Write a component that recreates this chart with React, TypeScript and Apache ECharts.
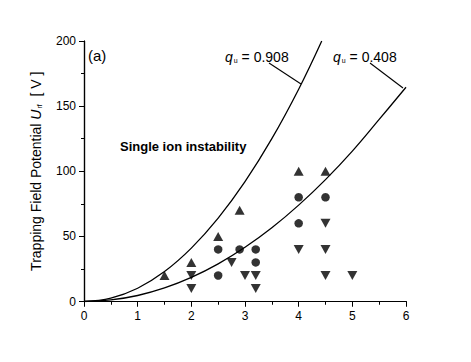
import React, { useEffect, useRef } from "react";
import * as echarts from "echarts";

const upTriangles: [number, number][] = [
  [1.5, 20], [2, 30], [2.5, 50], [2.9, 70], [4, 100], [4.5, 100],
];
const circles: [number, number][] = [
  [2.5, 40], [2.5, 20], [2.9, 40], [3.2, 40], [3.2, 30], [4, 80], [4, 60], [4.5, 80],
];
const downTriangles: [number, number][] = [
  [2, 20], [2, 10], [2.75, 30], [3, 20], [3.2, 20], [3.2, 10],
  [4, 40], [4.5, 60], [4.5, 40], [4.5, 20], [5, 20],
];
// curve, q_u = 0.908
const curveHigh: [number, number][] = [
  [0, 0], [0.5, 2.6], [1, 10.2], [1.5, 23], [2, 41], [2.5, 64], [3, 92],
  [3.5, 125], [4, 163], [4.43, 200],
];
// curve, q_u = 0.408
const curveLow: [number, number][] = [
  [0, 0], [0.5, 1.2], [1, 4.6], [1.5, 10.4], [2, 18.5], [2.5, 28.9], [3, 41.6],
  [3.5, 56.6], [4, 74], [4.5, 93.6], [5, 115.5], [5.5, 139.8], [6, 164.5],
];
const xTicks = [0, 1, 2, 3, 4, 5, 6];
const yTicks = [0, 50, 100, 150, 200];

const FONT = "Liberation Sans, Arial, sans-serif";

export default function App() {
  const ref = useRef<HTMLDivElement>(null);
  useEffect(() => {
    if (!ref.current) return;
    const chart = echarts.init(ref.current, null, { renderer: "svg" });
    const axisLine = { show: true, lineStyle: { color: "#000", width: 1.2 } };
    const common = {
      splitLine: { show: false },
      axisLine,
    };
    const qRich = {
      q: { fontSize: 14, fontStyle: "italic", fontFamily: FONT, fill: "#000" },
      s: { fontSize: 7, fontFamily: FONT, fill: "#000", verticalAlign: "bottom", padding: [0, 0, 0, 1] },
      n: { fontSize: 14, fontFamily: FONT, fill: "#000" },
    };
    chart.setOption({
      animation: false,
      backgroundColor: "#fff",
      textStyle: { fontFamily: FONT },
      grid: { left: 84, right: 65, top: 41, bottom: 60.5, containLabel: false },
      xAxis: [
        {
          ...common,
          type: "value",
          min: xTicks[0],
          max: xTicks[xTicks.length - 1],
          interval: 1,
          position: "bottom",
          axisTick: { show: true, inside: false, length: 5, lineStyle: { color: "#000" } },
          minorTick: { show: true, splitNumber: 2, length: 3, lineStyle: { color: "#000" } },
          axisLabel: { color: "#000", fontSize: 12, margin: 8, fontFamily: FONT },
        },
        {
          ...common,
          type: "value",
          min: xTicks[0],
          max: xTicks[xTicks.length - 1],
          interval: 1,
          position: "top",
          axisTick: { show: true, inside: true, length: 5, lineStyle: { color: "#000" } },
          minorTick: { show: true, splitNumber: 2, length: 3, lineStyle: { color: "#000" } },
          axisLabel: { show: false },
        },
      ],
      yAxis: [
        {
          ...common,
          type: "value",
          min: yTicks[0],
          max: yTicks[yTicks.length - 1],
          interval: 50,
          position: "left",
          axisTick: { show: true, inside: false, length: 5, lineStyle: { color: "#000" } },
          minorTick: { show: true, splitNumber: 2, length: 3, lineStyle: { color: "#000" } },
          axisLabel: { color: "#000", fontSize: 12, margin: 8, fontFamily: FONT },
          name: "{t|Trapping Field Potential }{u|U}{s|rf}{t|  [ V ]}",
          nameLocation: "middle",
          nameGap: 41,
          nameRotate: 90,
          nameTextStyle: {
            color: "#000",
            fontFamily: FONT,
            rich: {
              t: { fontSize: 14, color: "#000", fontFamily: FONT },
              u: { fontSize: 14, color: "#000", fontStyle: "italic", fontFamily: FONT },
              s: { fontSize: 7, color: "#000", fontFamily: FONT, verticalAlign: "bottom", padding: [0, 0, 0, 1] },
            },
          },
        },
        {
          ...common,
          type: "value",
          min: yTicks[0],
          max: yTicks[yTicks.length - 1],
          interval: 50,
          position: "right",
          axisTick: { show: true, inside: true, length: 5, lineStyle: { color: "#000" } },
          minorTick: { show: true, splitNumber: 2, length: 3, lineStyle: { color: "#000" } },
          axisLabel: { show: false },
        },
      ],
      series: [
        {
          type: "line",
          data: curveHigh,
          smooth: 0.4,
          showSymbol: false,
          clip: true,
          lineStyle: { color: "#000", width: 1.3 },
          silent: true,
          z: 3,
        },
        {
          type: "line",
          data: curveLow,
          smooth: 0.4,
          showSymbol: false,
          clip: true,
          lineStyle: { color: "#000", width: 1.3 },
          silent: true,
          z: 3,
        },
        {
          type: "scatter",
          data: upTriangles,
          symbol: "triangle",
          symbolSize: [10, 9],
          itemStyle: { color: "#000" },
          z: 4,
        },
        {
          type: "scatter",
          data: circles,
          symbol: "circle",
          symbolSize: 8.5,
          itemStyle: { color: "#000" },
          z: 4,
        },
        {
          type: "scatter",
          data: downTriangles,
          symbol: "triangle",
          symbolRotate: 180,
          symbolSize: [10, 9],
          itemStyle: { color: "#000" },
          z: 4,
        },
      ],
      graphic: [
        {
          type: "text",
          x: 88,
          y: 55,
          style: { text: "(a)", fontSize: 15, fontFamily: FONT, fill: "#000", verticalAlign: "middle" },
        },
        {
          type: "text",
          x: 120,
          y: 146,
          style: {
            text: "Single ion instability",
            fontSize: 13,
            fontWeight: "bold",
            fontFamily: FONT,
            fill: "#000",
            verticalAlign: "middle",
          },
        },
        {
          type: "text",
          x: 225,
          y: 57,
          style: { text: "{q|q}{s|u}{n| = 0.908}", fill: "#000", verticalAlign: "middle", rich: qRich },
        },
        {
          type: "text",
          x: 333,
          y: 57,
          style: { text: "{q|q}{s|u}{n| = 0.408}", fill: "#000", verticalAlign: "middle", rich: qRich },
        },
        {
          type: "line",
          shape: { x1: 269, y1: 63, x2: 301, y2: 84 },
          style: { stroke: "#000", lineWidth: 1.1 },
        },
        {
          type: "line",
          shape: { x1: 370, y1: 63, x2: 403, y2: 88 },
          style: { stroke: "#000", lineWidth: 1.1 },
        },
      ],
    });
    return () => chart.dispose();
  }, []);
  return <div ref={ref} style={{ width: 471, height: 362, position: "absolute", left: 0, top: 0 }} />;
}
